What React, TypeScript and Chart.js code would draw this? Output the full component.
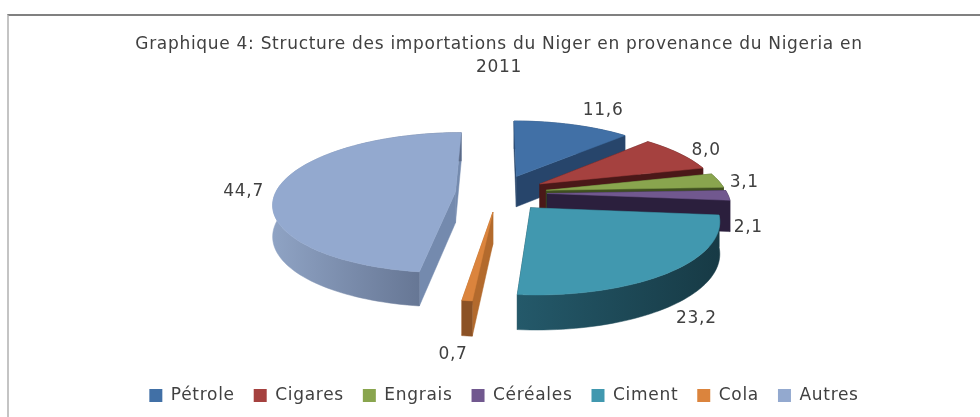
import React, { useEffect, useRef } from "react";
import { Chart, registerables } from "chart.js";

Chart.register(...registerables);

const categories = ["Pétrole", "Cigares", "Engrais", "Céréales", "Ciment", "Cola", "Autres"];
const shares = [11.6, 8.0, 3.1, 2.1, 23.2, 0.7, 44.7];
const shareLabels = ["11,6", "8,0", "3,1", "2,1", "23,2", "0,7", "44,7"];
const titleLines = ["Graphique 4: Structure des importations du Niger en provenance du Nigeria en", "2011"];

const topColors = ["#4170A6", "#A5413F", "#89A54E", "#71588F", "#4198AF", "#DB843D", "#93A9CF"];
const faceColors = ["#27456B", "#4A1818", "#3F4F20", "#2B1F3D", "#1B3F4A", "#B36A2D", "#748AAE"];
const rimLeft = ["#27456B", "#4A1818", "#3F4F20", "#2B1F3D", "#24596A", "#8C5225", "#8FA3C4"];
const rimRight = ["#27456B", "#4A1818", "#3F4F20", "#2B1F3D", "#173A45", "#8C5225", "#5B6A87"];
const explodeBy = [0.27, 0.27, 0.27, 0.27, 0.27, 0.27, 0.24];
const labelNudge: [number, number][] = [[31, -14], [27, -3], [26, 2], [20, 32], [26, 47], [-14, 54], [-35, 4]];

const VIEW = { cx: 498.5, cy: 193, ax: 180, by: 68.7, persp: 0.154, depth: 31 };
const LETTER_SPACING = "0.7px";

function project(X: number, Y: number) {
  const w = 1 + VIEW.persp * Y;
  return { x: VIEW.cx + (VIEW.ax * X) / w, y: VIEW.cy - (VIEW.by * Y) / w, d: VIEW.depth / Math.pow(w, 0.6) };
}

const pie3d = {
  id: "pie3d",
  beforeLayout(chart: any) {
    chart.ctx.letterSpacing = LETTER_SPACING;
  },
  beforeDraw(chart: any) {
    chart.ctx.letterSpacing = LETTER_SPACING;
  },
  beforeDatasetDraw(chart: any) {
    const ctx = chart.ctx;
    const arcs = chart.getDatasetMeta(0).data;
    const order = [0, 1, 2, 3, 4, 6, 5];
    const halfPi = Math.PI / 2;
    const solids = arcs.map((arc: any, idx: number) => {
      const a0 = arc.startAngle + halfPi;
      const a1 = arc.endAngle + halfPi;
      const mid = (a0 + a1) / 2;
      const ox = explodeBy[idx] * Math.sin(mid);
      const oy = explodeBy[idx] * Math.cos(mid);
      const rim = [];
      const n = Math.max(2, Math.ceil((a1 - a0) / 0.03));
      for (let i = 0; i <= n; i++) {
        const a = a0 + ((a1 - a0) * i) / n;
        rim.push(project(ox + Math.sin(a), oy + Math.cos(a)));
      }
      return { apex: project(ox, oy), rim, mid, ox, oy };
    });
    const wall = (pts: any[], fill: any) => {
      ctx.fillStyle = fill;
      ctx.strokeStyle = fill;
      ctx.lineWidth = 0.5;
      ctx.beginPath();
      pts.forEach((p, k) => (k ? ctx.lineTo(p.x, p.y) : ctx.moveTo(p.x, p.y)));
      for (let k = pts.length - 1; k >= 0; k--) ctx.lineTo(pts[k].x, pts[k].y + pts[k].d);
      ctx.closePath();
      ctx.fill();
      ctx.stroke();
    };
    for (const i of order) {
      const s = solids[i];
      wall([s.apex, s.rim[0]], faceColors[i]);
      wall([s.apex, s.rim[s.rim.length - 1]], faceColors[i]);
      const xs = s.rim.map((p: any) => p.x);
      const g = ctx.createLinearGradient(Math.min(...xs), 0, Math.max(...xs), 0);
      g.addColorStop(0, rimLeft[i]);
      g.addColorStop(1, rimRight[i]);
      wall(s.rim, g);
      ctx.fillStyle = topColors[i];
      ctx.strokeStyle = topColors[i];
      ctx.lineWidth = 0.5;
      ctx.beginPath();
      ctx.moveTo(s.apex.x, s.apex.y);
      for (const p of s.rim) ctx.lineTo(p.x, p.y);
      ctx.closePath();
      ctx.fill();
      ctx.stroke();
    }
    ctx.fillStyle = "#404040";
    ctx.font = "17px 'DejaVu Sans'";
    ctx.textAlign = "center";
    ctx.textBaseline = "middle";
    solids.forEach((s: any, i: number) => {
      const p = project(s.ox + Math.sin(s.mid), s.oy + Math.cos(s.mid));
      ctx.fillText(shareLabels[i], p.x + labelNudge[i][0], p.y + labelNudge[i][1]);
    });
    return false;
  },
  afterLayout(chart: any) {
    chart.titleBlock.left += 9;
    chart.titleBlock.right += 9;
    chart.legend.left += 14;
    chart.legend.right += 14;
  },
};

export default function App() {
  const ref = useRef<HTMLCanvasElement>(null);
  useEffect(() => {
    const chart = new Chart(ref.current as HTMLCanvasElement, {
      type: "pie",
      data: {
        labels: categories,
        datasets: [{ data: shares, backgroundColor: topColors, borderWidth: 0 }],
      },
      options: {
        responsive: false,
        animation: false,
        layout: { padding: { top: 34, bottom: 3 } },
        plugins: {
          title: {
            display: true,
            text: titleLines,
            color: "#404040",
            font: { family: "'DejaVu Sans'", size: 17, weight: "normal", lineHeight: 1.3 },
            padding: { top: 0, bottom: 10 },
          },
          legend: {
            position: "bottom",
            labels: {
              color: "#404040",
              font: { family: "'DejaVu Sans'", size: 17 },
              boxWidth: 13,
              boxHeight: 13,
              padding: 19,
            },
          },
          tooltip: { enabled: false },
        },
      },
      plugins: [pie3d],
    } as any);
    return () => chart.destroy();
  }, []);
  return (
    <div style={{ position: "absolute", left: 0, top: 0, width: 980, height: 417, background: "#fff", overflow: "hidden" }}>
      <div style={{ position: "absolute", left: 7, top: 14, right: 0, bottom: 0, borderTop: "2px solid #808080", borderLeft: "2px solid #c4c4c4" }} />
      <canvas ref={ref} width={980} height={417} style={{ position: "absolute", left: 0, top: 0, display: "block", filter: "blur(0.5px)" }} />
    </div>
  );
}
